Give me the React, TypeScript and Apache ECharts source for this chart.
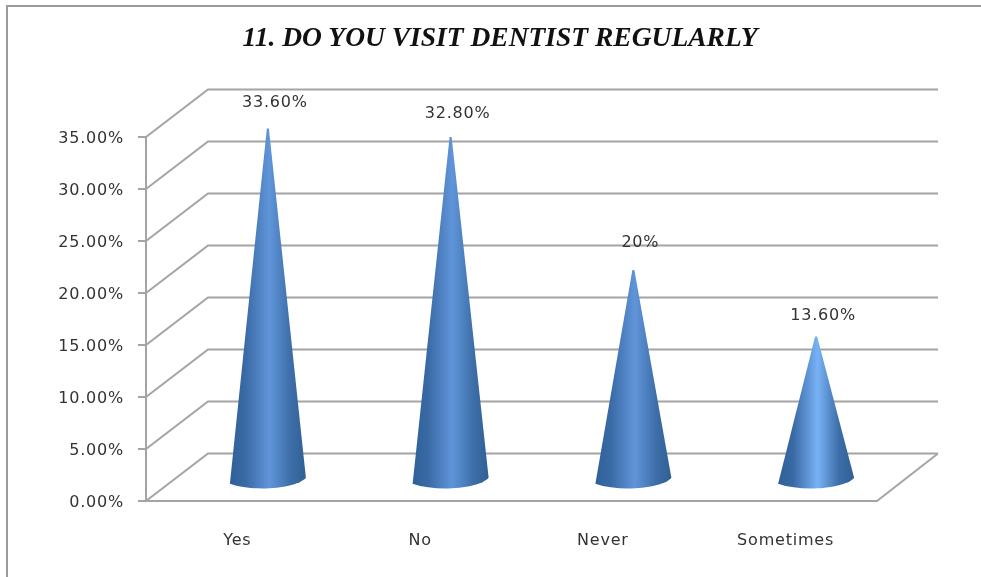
import React, { useEffect, useRef } from "react";
import * as echarts from "echarts";

const categories = ["Yes", "No", "Never", "Sometimes"];
const values = [33.6, 32.8, 20, 13.6];
const valueLabels = ["33.60%", "32.80%", "20%", "13.60%"];
const gridTicks = [0, 5, 10, 15, 20, 25, 30, 35];
const titleText = "11. DO YOU VISIT DENTIST REGULARLY";

const DEPTH_X = 62;
const DEPTH_Y = 47.5;
const GREY = "#a4a4a4";
const TEXT = "#333333";
const labelLift = [27, 24, 29, 22];
const coneHighlights = ["#6095da", "#6095da", "#6095da", "#78b2f6"];

function renderWall(params: any, api: any) {
  const cs = params.coordSys;
  const y = api.coord([0, api.value(1)])[1];
  const x0 = cs.x;
  const x1 = cs.x + cs.width;
  const children: any[] = [
    {
      type: "polyline",
      shape: { points: [[x0, y], [x0 + DEPTH_X, y - DEPTH_Y], [x1 + DEPTH_X - 1, y - DEPTH_Y]] },
      style: { stroke: GREY, lineWidth: 2, fill: "none" },
    },
  ];
  if (api.value(1) === 0) {
    children.push({
      type: "line",
      shape: { x1: x1 + DEPTH_X - 1, y1: y - DEPTH_Y, x2: x1, y2: y },
      style: { stroke: GREY, lineWidth: 2 },
    });
  }
  return { type: "group", children };
}

function renderCone(params: any, api: any) {
  const i = params.dataIndex;
  const [cx0, base0] = api.coord([api.value(0), 0]);
  const top = api.coord([api.value(0), api.value(1)])[1];
  const cx = cx0 + 30.5;
  const base = base0 - 23;
  const apex = top - 23;
  const d =
    `M ${cx - 1} ${apex} L ${cx + 1} ${apex} L ${cx + 38} ${base - 2} ` +
    `C ${cx + 30} ${base + 8} ${cx - 12} ${base + 13} ${cx - 38} ${base + 4} Z`;
  return {
    type: "group",
    children: [
      {
        type: "path",
        shape: { pathData: d, layout: "cover", x: cx - 38, y: apex, width: 76, height: base + 10.5 - apex },
        style: {
          fill: new echarts.graphic.LinearGradient(0, 0, 1, 0, [
            { offset: 0, color: "#2e6098" },
            { offset: 0.2, color: "#3a6aa5" },
            { offset: 0.52, color: coneHighlights[i] },
            { offset: 0.8, color: "#3d6ea8" },
            { offset: 1, color: "#2f5f94" },
          ]),
        },
      },
      {
        type: "text",
        style: {
          x: cx + 7,
          y: apex - labelLift[i],
          text: valueLabels[i],
          fill: TEXT,
          font: '16px "DejaVu Sans"',
          align: "center",
          verticalAlign: "middle",
        },
      },
    ],
  };
}

export default function App() {
  const ref = useRef<HTMLDivElement>(null);
  useEffect(() => {
    document.body.style.margin = "0";
    const chart = echarts.init(ref.current!, null, { renderer: "svg" });
    chart.setOption({
      animation: false,
      backgroundColor: "#ffffff",
      title: {
        text: titleText,
        left: 495,
        top: 18,
        textAlign: "center",
        textStyle: {
          fontFamily: "Liberation Serif",
          fontStyle: "italic",
          fontWeight: "bold",
          fontSize: 27.5,
          color: "#111111",
        },
      },
      grid: { left: 146, right: 104, top: 137, bottom: 76 },
      xAxis: {
        type: "category",
        data: categories,
        axisLine: { lineStyle: { color: GREY, width: 2 } },
        axisTick: { length: 9, lineStyle: { color: GREY, width: 2 } },
        axisLabel: { margin: 30, color: TEXT, fontFamily: "DejaVu Sans", fontSize: 16 },
      },
      yAxis: {
        type: "value",
        min: 0,
        max: 35,
        interval: 5,
        axisLine: { show: true, lineStyle: { color: GREY, width: 2 } },
        axisTick: { show: true, length: 8, lineStyle: { color: GREY, width: 2 } },
        splitLine: { show: false },
        axisLabel: {
          margin: 22,
          color: TEXT,
          fontFamily: "DejaVu Sans",
          fontSize: 16,
          formatter: (v: number) => v.toFixed(2) + "%",
        },
      },
      graphic: [
        {
          type: "polyline",
          silent: true,
          shape: { points: [[7, 577], [7, 6], [981, 6]] },
          style: { stroke: "#9a9a9a", lineWidth: 2, fill: "none" },
        },
      ],
      series: [
        {
          type: "custom",
          renderItem: renderWall,
          data: gridTicks.map((t) => [0, t]),
          encode: { x: 0, y: 1 },
          silent: true,
          z: 1,
        },
        {
          type: "custom",
          renderItem: renderCone,
          data: values.map((v, i) => [i, v]),
          encode: { x: 0, y: 1 },
          z: 3,
        },
      ],
    });
    return () => chart.dispose();
  }, []);
  return (
    <>
      <style>{`.chart-box text{letter-spacing:.8px}.chart-box text[style*="bold"]{letter-spacing:0}`}</style>
      <div className="chart-box" ref={ref} style={{ width: 981, height: 577, filter: "blur(0.4px)" }} />
    </>
  );
}
